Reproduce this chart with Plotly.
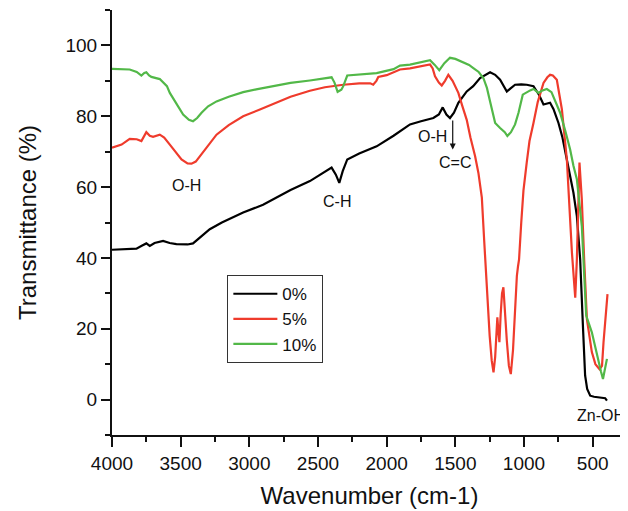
import plotly.graph_objects as go

# ---- data (wavenumber cm-1, transmittance %) ----
wn_0 = [4000, 3900, 3822, 3780, 3750, 3725, 3690, 3628, 3580, 3531, 3450, 3410, 3350, 3288, 3200,
        3045, 2900, 2802, 2700, 2559, 2450, 2401, 2370, 2345, 2320, 2287, 2200, 2073, 1950, 1830,
        1750, 1700, 1660, 1620, 1592, 1565, 1539, 1510, 1478, 1417, 1370, 1320, 1280, 1247, 1210,
        1174, 1125, 1100, 1065, 1020, 980, 931, 890, 858, 810, 785, 749, 720, 688, 660, 640, 615,
        591, 571, 555, 540, 518, 490, 458, 430, 409, 396]
tr_0 = [42.3, 42.5, 42.6, 43.5, 44.1, 43.4, 44.2, 44.8, 44.2, 43.9, 43.8, 44.1, 46.0, 48.1, 50.0,
        52.8, 55.0, 57.0, 59.2, 61.7, 64.3, 65.5, 63.5, 61.2, 64.5, 67.8, 69.5, 71.5, 74.5, 77.7,
        78.6, 79.0, 79.5, 80.5, 82.5, 80.5, 79.5, 81.0, 83.8, 87.0, 88.5, 90.8, 91.8, 92.4, 91.7,
        90.3, 87.0, 87.8, 88.9, 89.0, 88.9, 88.5, 86.0, 83.3, 83.8, 82.0, 78.1, 74.0, 67.8, 62.0, 58.4, 51.8,
        39.6, 20.8, 6.8, 3.0, 1.1, 0.8, 0.7, 0.5, 0.4, -0.3]

wn_5 = [4000, 3930, 3871, 3820, 3786, 3765, 3750, 3725, 3701, 3652, 3620, 3579, 3530, 3494, 3450,
        3421, 3390, 3361, 3300, 3239, 3150, 3045, 2923, 2802, 2700, 2559, 2450, 2316, 2200, 2120,
        2098, 2075, 2061, 2000, 1903, 1830, 1750, 1684, 1665, 1648, 1620, 1599, 1575, 1551, 1520,
        1478, 1450, 1417, 1390, 1356, 1332, 1307, 1290, 1271, 1250, 1235, 1222, 1210, 1200, 1194,
        1186, 1179, 1170, 1160, 1150, 1140, 1125, 1110, 1096, 1080, 1065, 1052, 1044, 1036, 1020,
        1004, 980, 960, 931, 900, 858, 830, 810, 790, 761, 724, 688, 669, 651, 627, 615, 596,
        579, 562, 542, 506, 480, 450, 432, 421, 405, 392]
tr_5 = [71.1, 72.0, 73.6, 73.5, 73.0, 74.5, 75.5, 74.5, 74.2, 74.8, 74.0, 72.0, 69.5, 67.8, 66.7,
        66.6, 67.2, 68.7, 71.8, 74.8, 77.5, 80.0, 81.9, 83.8, 85.5, 87.2, 88.2, 88.9, 89.3, 89.3,
        88.9, 90.0, 91.1, 91.6, 93.2, 93.5, 94.2, 94.6, 93.5, 91.3, 89.5, 88.7, 90.0, 91.7, 90.0,
        86.6, 83.0, 79.0, 74.0, 68.7, 64.0, 57.0, 45.0, 31.2, 18.0, 11.0, 7.7, 12.0, 20.0, 23.2,
        19.0, 16.2, 24.0, 30.0, 31.7, 25.0, 16.6, 9.5, 7.2, 14.0, 26.0, 34.9, 37.5, 39.6, 50.0,
        59.0, 67.0, 73.0, 78.1, 84.0, 89.4, 91.0, 91.7, 91.5, 90.3, 81.9, 67.8, 53.7, 41.5, 28.8, 39.6, 66.9,
        56.5, 39.6, 22.7, 13.4, 10.0, 8.6, 9.5, 16.2, 23.0, 29.8]

wn_10 = [4000, 3930, 3871, 3820, 3786, 3765, 3750, 3730, 3713, 3652, 3600, 3579, 3530, 3482, 3440,
         3410, 3380, 3348, 3300, 3239, 3150, 3045, 2950, 2802, 2700, 2559, 2401, 2380, 2357, 2330,
         2316, 2287, 2200, 2073, 1950, 1903, 1830, 1750, 1684, 1650, 1617, 1580, 1539, 1500, 1453,
         1400, 1369, 1330, 1296, 1270, 1247, 1230, 1210, 1174, 1140, 1121, 1095, 1065, 1040, 1009,
         980, 955, 931, 895, 870, 834, 800, 737, 700, 664, 640, 615, 579, 560, 547, 506, 458, 440,
         425, 410, 396]
tr_10 = [93.4, 93.3, 93.2, 92.5, 91.5, 92.2, 92.4, 91.5, 91.1, 90.5, 88.5, 86.6, 83.5, 80.5, 79.0,
         78.6, 79.5, 81.0, 82.8, 84.2, 85.5, 86.8, 87.6, 88.7, 89.4, 90.1, 91.0, 89.5, 86.9, 87.5,
         88.5, 91.5, 91.8, 92.2, 93.3, 94.3, 94.6, 95.3, 95.8, 94.5, 93.0, 95.0, 96.5, 96.2, 95.5,
         94.5, 93.6, 92.5, 90.8, 88.0, 84.2, 81.0, 78.1, 76.7, 75.5, 74.4, 75.5, 77.7, 81.0, 86.1,
         86.8, 87.3, 87.7, 86.6, 87.2, 87.7, 86.8, 81.0, 76.0, 70.6, 66.0, 62.2, 49.0, 34.9, 23.7, 19.0, 10.5, 8.0,
         5.8, 8.5, 11.5]

series_names = ["0%", "5%", "10%"]
series_colors = ["#000000", "#ef3b2c", "#52b848"]

x_ticks = [4000, 3500, 3000, 2500, 2000, 1500, 1000, 500]
y_ticks = [0, 20, 40, 60, 80, 100]

FONT = "Liberation Sans, Arial, sans-serif"

fig = go.Figure()
for name, xs, ys, col in zip(series_names, [wn_0, wn_5, wn_10], [tr_0, tr_5, tr_10], series_colors):
    fig.add_trace(go.Scatter(x=xs, y=ys, mode="lines", name=name,
                             line=dict(color=col, width=2.2)))

# annotations
notes = [
    (3458, 60.5, "O-H"),
    (2360, 55.8, "C-H"),
    (1665, 74.4, "O-H"),
    (1502, 67.0, "C=C"),
]
for ax_, ay_, t in notes:
    fig.add_annotation(x=ax_, y=ay_, text=t, showarrow=False,
                       font=dict(family=FONT, size=16, color="#111111"))
fig.add_annotation(x=1.0, xref="paper", y=-4.5, yref="y", xanchor="right", text="Zn-OH",
                   showarrow=False, font=dict(family=FONT, size=16, color="#111111"))

fig.add_annotation(x=1519, y=70.6, ax=1519, ay=79.2, xref="x", yref="y", axref="x", ayref="y",
                   text="", showarrow=True, arrowhead=2, arrowsize=1, arrowwidth=1.2,
                   arrowcolor="#111111")

fig.update_layout(
    width=620, height=503,
    margin=dict(l=104, r=1, t=2, b=76),
    paper_bgcolor="white", plot_bgcolor="white",
    font=dict(family=FONT, color="#111111"),
    showlegend=True,
    legend=dict(x=0.224, y=0.376, xanchor="left", yanchor="top",
                bordercolor="#333333", borderwidth=1, bgcolor="white",
                font=dict(family=FONT, size=17, color="#111111"),
                tracegroupgap=0, itemwidth=44, entrywidth=66, entrywidthmode="pixels"),
    xaxis=dict(range=[4000, 250], tickvals=x_ticks, ticks="outside", ticklen=10, tickwidth=1.5,
               tickcolor="#111111", showline=True, linecolor="#111111", linewidth=2,
               showgrid=False, zeroline=False, automargin=False,
               minor=dict(dtick=250, tick0=0, ticks="outside", ticklen=5, tickwidth=1.5, tickcolor="#111111"),
               tickfont=dict(family=FONT, size=19, color="#111111"),
               title=dict(text="Wavenumber (cm-1)", font=dict(family=FONT, size=24, color="#111111"),
                          standoff=14)),
    yaxis=dict(range=[-10, 110], tickvals=y_ticks, ticks="outside", ticklen=9, tickwidth=1.5,
               tickcolor="#111111", showline=True, linecolor="#111111", linewidth=2,
               showgrid=False, zeroline=False, automargin=False,
               minor=dict(dtick=10, tick0=0, ticks="outside", ticklen=5, tickwidth=1.5, tickcolor="#111111"),
               tickfont=dict(family=FONT, size=19, color="#111111"),
               title=dict(text="Transmittance (%)", font=dict(family=FONT, size=24, color="#111111"),
                          standoff=22)),
)

fig.write_html("out.html")
